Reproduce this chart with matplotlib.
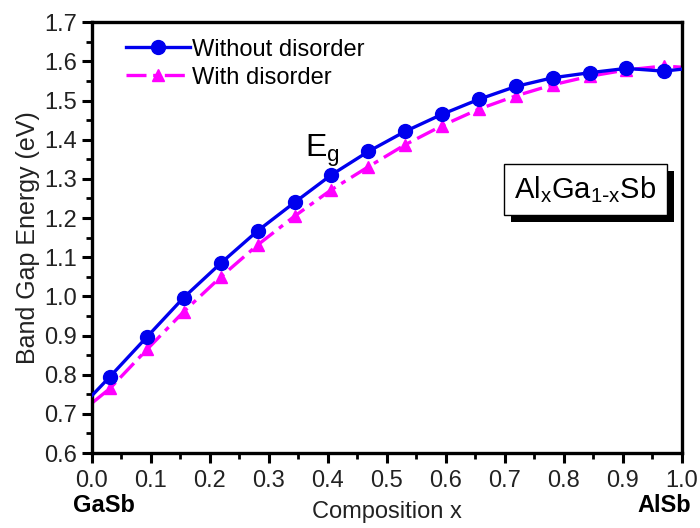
import numpy as np
import matplotlib
matplotlib.use("Agg")
import matplotlib.pyplot as plt
from matplotlib.ticker import MultipleLocator
import matplotlib.patheffects as pe

plt.rcParams['font.family'] = ['Liberation Sans', 'DejaVu Sans']

# composition x: end points plus 16 computed points
x = [0.0, 0.031, 0.094, 0.156, 0.219, 0.281, 0.344, 0.406, 0.469,
     0.531, 0.594, 0.656, 0.719, 0.781, 0.844, 0.906, 0.969, 1.0]
eg_without = [0.746, 0.795, 0.897, 0.997, 1.085, 1.167, 1.240, 1.310, 1.370,
              1.421, 1.465, 1.503, 1.536, 1.558, 1.571, 1.582, 1.575, 1.58]
eg_with = [0.727, 0.765, 0.865, 0.961, 1.050, 1.131, 1.205, 1.272, 1.331,
           1.387, 1.436, 1.478, 1.512, 1.540, 1.562, 1.578, 1.588, 1.585]

fig = plt.figure(figsize=(7, 5.28), dpi=100)
ax = fig.add_axes([0.131, 0.142, 0.843, 0.816])

ax.plot(x, eg_without, color='#0000ee', lw=2.4, marker='o', markersize=10,
        markevery=list(range(1, 17)), label='Without disorder', zorder=3)
ax.plot(x, eg_with, color='#ff00ff', lw=2.4, ls=(0, (6, 2, 1.5, 2)), marker='^',
        markersize=9, markevery=list(range(1, 17)), label='With disorder', zorder=2)

ax.set_xlim(0, 1.0)
ax.set_ylim(0.6, 1.7)
ax.xaxis.set_major_locator(MultipleLocator(0.1))
ax.xaxis.set_minor_locator(MultipleLocator(0.05))
ax.yaxis.set_major_locator(MultipleLocator(0.1))
ax.yaxis.set_minor_locator(MultipleLocator(0.05))
ax.xaxis.set_major_formatter(plt.FuncFormatter(lambda v, p: '%.1f' % v))
ax.yaxis.set_major_formatter(plt.FuncFormatter(lambda v, p: '%.1f' % v))
ax.tick_params(which='major', direction='out', length=7, width=2.2, labelsize=17,
               labelcolor='#222222')
ax.tick_params(axis='x', which='major', pad=5)
ax.tick_params(which='minor', direction='out', length=4, width=2)
for s in ax.spines.values():
    s.set_linewidth(2.4)

ax.set_ylabel('Band Gap Energy (eV)', fontsize=18, color='#222222', labelpad=3)
ax.set_xlabel('Composition x', fontsize=17, color='#222222', labelpad=7)

ax.text(0.02, -0.122, 'GaSb', transform=ax.transAxes, fontsize=17, fontweight='bold',
        ha='center', va='center')
ax.text(0.971, -0.122, 'AlSb', transform=ax.transAxes, fontsize=17, fontweight='bold',
        ha='center', va='center')

ax.text(0.361, 1.357, r'E$_\mathregular{g}$', fontsize=23, ha='left', va='baseline')

t = ax.text(0.837, 1.272, r'Al$_\mathregular{x}$Ga$_\mathregular{1\text{-}x}$Sb', fontsize=21,
            ha='center', va='center',
            bbox=dict(boxstyle='square,pad=0.35', fc='white', ec='black', lw=1))
t.get_bbox_patch().set_path_effects([
    pe.withSimplePatchShadow(offset=(5, -5), shadow_rgbFace='black', alpha=1.0)])

leg = ax.legend(loc='upper left', bbox_to_anchor=(0.03, 1.0), frameon=False,
                fontsize=17, handlelength=2.7, handletextpad=0.1,
                labelspacing=0.25, borderaxespad=0.3)

fig.savefig('out.png', dpi=100)
